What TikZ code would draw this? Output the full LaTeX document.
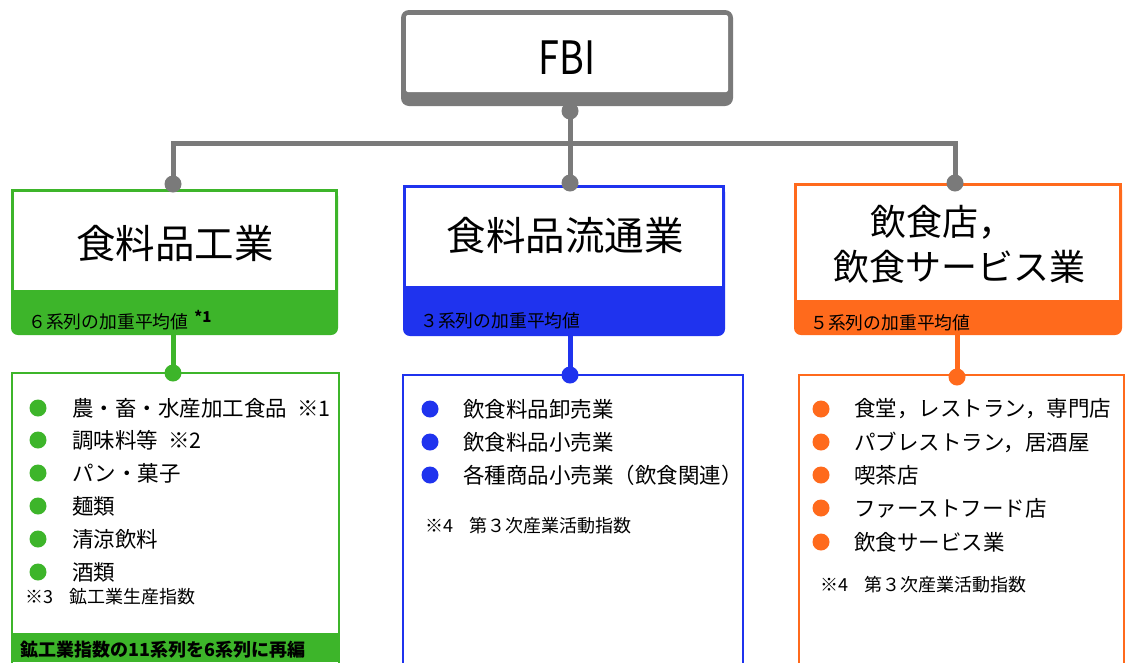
\documentclass[tikz,border=0pt]{standalone}
\usepackage{fontspec}
\setmainfont{Noto Sans CJK JP}
\usepackage{graphicx}
\definecolor{grn}{HTML}{3DB52A}
\definecolor{blu}{HTML}{1F33EE}
\definecolor{org}{HTML}{FF6A1C}
\definecolor{gry}{HTML}{7A7A7A}
\tikzset{
  busline/.style={draw=gry, line width=5pt},
  txt/.style={inner sep=0pt, anchor=west},
  title/.style={inner sep=0pt, align=center},
  itemfont/.style={font=\fontsize{21.5}{24}\selectfont},
  notefont/.style={font=\fontsize{18}{20}\selectfont},
  bandfont/.style={font=\fontsize{17.8}{20}\selectfont},
}
\begin{document}
\begin{tikzpicture}[x=1pt,y=-1pt]
\useasboundingbox (0,0) rectangle (1129,662);
\fill[white] (0,0) rectangle (1129,662);

% ---------- FBI box ----------
\fill[gry, rounded corners=8pt] (401,10) rectangle (733,106);
\fill[white, rounded corners=2pt] (406,15) rectangle (728,92);
\node[title] (fbi) at (567,58) {\fontsize{46}{50}\selectfont\scalebox{0.82}[1]{FBI}};

% ---------- top category boxes ----------
% green
\fill[grn, rounded corners=7pt] (11,189) rectangle (338,335);
\fill[grn] (11,189) rectangle (338,260);
\fill[white] (14,192) rectangle (335,290);
\node[title] (t1) at (175,243) {\fontsize{39.5}{44}\selectfont 食料品工業};
\node[txt, bandfont] (b1) at (28,320) {６系列の加重平均値\hspace{6pt}\raisebox{6pt}{\fontsize{15}{16}\selectfont\bfseries *1}};
% blue
\fill[blu, rounded corners=7pt] (403,185) rectangle (725,336);
\fill[blu] (403,185) rectangle (725,260);
\fill[white] (406,188) rectangle (722,286);
\node[title] (t2) at (565,235) {\fontsize{39.5}{44}\selectfont 食料品流通業};
\node[txt, bandfont] (b2) at (420,321) {３系列の加重平均値};
% orange
\fill[org, rounded corners=7pt] (794,183) rectangle (1122,335);
\fill[org] (794,183) rectangle (1122,260);
\fill[white] (797,186) rectangle (1119,300);
\node[title] (t3a) at (942,222) {\fontsize{36}{40}\selectfont 飲食店，};
\node[title] (t3b) at (959,267) {\fontsize{36}{40}\selectfont 飲食サービス業};
\node[txt, bandfont] (b3) at (810,323) {５系列の加重平均値};

% ---------- bottom list boxes ----------
\draw[grn, line width=2.5pt, fill=white] (12,373) rectangle (339,680);
\fill[grn] (12,633) rectangle (339,662);
\node[txt, font=\fontsize{18}{20}\selectfont\bfseries] (n1) at (20,650) {鉱工業指数の11系列を6系列に再編};

\draw[blu, line width=2pt, fill=white] (403,375) rectangle (743,680);
\draw[org, line width=2pt, fill=white] (799,375) rectangle (1124,680);

% ---------- connectors ----------
\coordinate (fbiS) at (570,111);
\coordinate (busL) at (173,143);
\coordinate (busM) at (570,143);
\coordinate (busR) at (955,143);
\coordinate (g1N) at (173,184);
\coordinate (b1N) at (570,183);
\coordinate (o1N) at (955,183);
\draw[busline] (fbiS) -- (busM) -- (b1N);
\draw[busline] (g1N) -- (busL) -- (busR) -- (o1N);
\foreach \p in {fbiS,g1N,b1N,o1N} \fill[gry] (\p) circle[radius=8.5pt];

\coordinate (g1S) at (173,335);
\coordinate (g2N) at (173,373);
\coordinate (b1S) at (570,336);
\coordinate (b2N) at (570,375);
\coordinate (o1S) at (957,335);
\coordinate (o2N) at (957,377);
\draw[grn, line width=5pt] (g1S) -- (g2N);
\draw[blu, line width=5pt] (b1S) -- (b2N);
\draw[org, line width=5pt] (o1S) -- (o2N);
\fill[grn] (g2N) circle[radius=8.5pt];
\fill[blu] (b2N) circle[radius=8.5pt];
\fill[org] (o2N) circle[radius=8.5pt];

% ---------- green list ----------
\foreach \y in {408,440,473,506,539,572} \fill[grn] (38,\y) circle[radius=8.5pt];
\node[txt, itemfont] (g1) at (72,408) {農・畜・水産加工食品\hspace{10pt}※1};
\node[txt, itemfont] (g2) at (72,440) {調味料等\hspace{10pt}※2};
\node[txt, itemfont] (g3) at (72,473) {パン・菓子};
\node[txt, itemfont] (g4) at (72,506) {麺類};
\node[txt, itemfont] (g5) at (72,539) {清涼飲料};
\node[txt, itemfont] (g6) at (72,572) {酒類};
\node[txt, notefont] (gn) at (25,597) {※3\hspace{16pt}鉱工業生産指数};

% ---------- blue list ----------
\foreach \y in {409,442,475} \fill[blu] (430,\y) circle[radius=8.5pt];
\node[txt, itemfont] (bl1) at (463,409) {飲食料品卸売業};
\node[txt, itemfont] (bl2) at (463,442) {飲食料品小売業};
\node[txt, itemfont] (bl3) at (463,475) {各種商品小売業（飲食関連）};
\node[txt, notefont] (bn) at (425,526) {※4\hspace{16pt}第３次産業活動指数};

% ---------- orange list ----------
\foreach \y in {409,442,475,508,542} \fill[org] (821,\y) circle[radius=8.5pt];
\node[txt, itemfont] (ol1) at (854,409) {食堂，レストラン，専門店};
\node[txt, itemfont] (ol2) at (854,442) {パブレストラン，居酒屋};
\node[txt, itemfont] (ol3) at (854,475) {喫茶店};
\node[txt, itemfont] (ol4) at (854,508) {ファーストフード店};
\node[txt, itemfont] (ol5) at (854,542) {飲食サービス業};
\node[txt, notefont] (on) at (820,585) {※4\hspace{16pt}第３次産業活動指数};
\end{tikzpicture}
\end{document}
